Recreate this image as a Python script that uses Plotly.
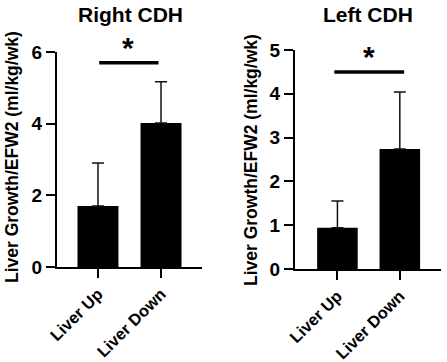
import plotly.graph_objects as go

categories = ["Liver Up", "Liver Down"]
right_means = [1.70, 4.02]
right_err = [1.20, 1.15]
left_means = [0.94, 2.74]
left_err = [0.61, 1.30]
right_ticks = [0, 2, 4, 6]
left_ticks = [0, 1, 2, 3, 4, 5]
right_sig_y = 5.7
left_sig_y = 4.5

W, H = 447, 362
FONT = "Liberation Sans, Arial, sans-serif"

fig = go.Figure()

def add_bars(means, errs, xa, ya):
    fig.add_trace(go.Bar(
        x=categories, y=means, xaxis=xa, yaxis=ya,
        marker=dict(color="black", line=dict(width=0)),
        width=0.65,
        error_y=dict(type="data", symmetric=False, array=errs,
                     arrayminus=[0] * len(errs), color="#111111",
                     thickness=1.5, width=6),
        showlegend=False,
    ))

add_bars(right_means, right_err, "x", "y")
add_bars(left_means, left_err, "x2", "y2")

def px_x(p):
    return p / W

def px_y(p):
    return 1 - p / H

axis_common = dict(showline=True, linecolor="black", linewidth=2,
                   ticks="outside", ticklen=9, tickwidth=2, tickcolor="black",
                   showgrid=False, zeroline=False, automargin=False,
                   tickfont=dict(family=FONT, size=19, color="black", weight="bold"))

xcommon = dict(axis_common)
xcommon["tickfont"] = dict(family=FONT, size=16.5, color="black", weight="bold")

fig.update_layout(
    width=W, height=H,
    margin=dict(l=0, r=0, t=0, b=0),
    paper_bgcolor="white", plot_bgcolor="white",
    bargap=0.35,
    xaxis=dict(domain=[px_x(57), px_x(202)], anchor="y", range=[-0.65, 1.65],
               tickangle=-45, **xcommon),
    yaxis=dict(domain=[px_y(267), px_y(52)], anchor="x", range=[0, 6],
               tickvals=right_ticks, **axis_common),
    xaxis2=dict(domain=[px_x(295), px_x(441)], anchor="y2", range=[-0.68, 1.66],
                tickangle=-45, **xcommon),
    yaxis2=dict(domain=[px_y(269), px_y(50)], anchor="x2", range=[0, 5],
                tickvals=left_ticks, **axis_common),
    shapes=[
        dict(type="line", xref="x", yref="y", x0=0.02, x1=0.96,
             y0=right_sig_y, y1=right_sig_y, line=dict(color="black", width=3.5)),
        dict(type="line", xref="x2", yref="y2", x0=-0.05, x1=1.07,
             y0=left_sig_y, y1=left_sig_y, line=dict(color="black", width=3.5)),
    ],
    annotations=[
        dict(text="<b>*</b>", xref="x", yref="y", x=0.48, y=right_sig_y,
             yanchor="bottom", showarrow=False, yshift=-3,
             font=dict(family=FONT, size=30, color="black")),
        dict(text="<b>*</b>", xref="x2", yref="y2", x=0.5, y=left_sig_y,
             yanchor="bottom", showarrow=False, yshift=-3,
             font=dict(family=FONT, size=30, color="black")),
        dict(text="<b>Right CDH</b>", xref="paper", yref="paper",
             x=px_x(130), y=px_y(15), xanchor="center", yanchor="middle",
             showarrow=False, font=dict(family=FONT, size=21, color="black")),
        dict(text="<b>Left CDH</b>", xref="paper", yref="paper",
             x=px_x(368), y=px_y(15), xanchor="center", yanchor="middle",
             showarrow=False, font=dict(family=FONT, size=21, color="black")),
        dict(text="<b>Liver Growth/EFW2 (ml/kg/wk)</b>", xref="paper", yref="paper",
             x=px_x(12), y=px_y(157), xanchor="center", yanchor="middle",
             textangle=-90, showarrow=False,
             font=dict(family=FONT, size=17.5, color="black")),
        dict(text="<b>Liver Growth/EFW2 (ml/kg/wk)</b>", xref="paper", yref="paper",
             x=px_x(251), y=px_y(160), xanchor="center", yanchor="middle",
             textangle=-90, showarrow=False,
             font=dict(family=FONT, size=17.5, color="black")),
    ],
)

fig.write_html("out.html",
               config={"displayModeBar": False},
               post_script="document.body.style.margin='0';document.body.style.overflow='hidden';")
